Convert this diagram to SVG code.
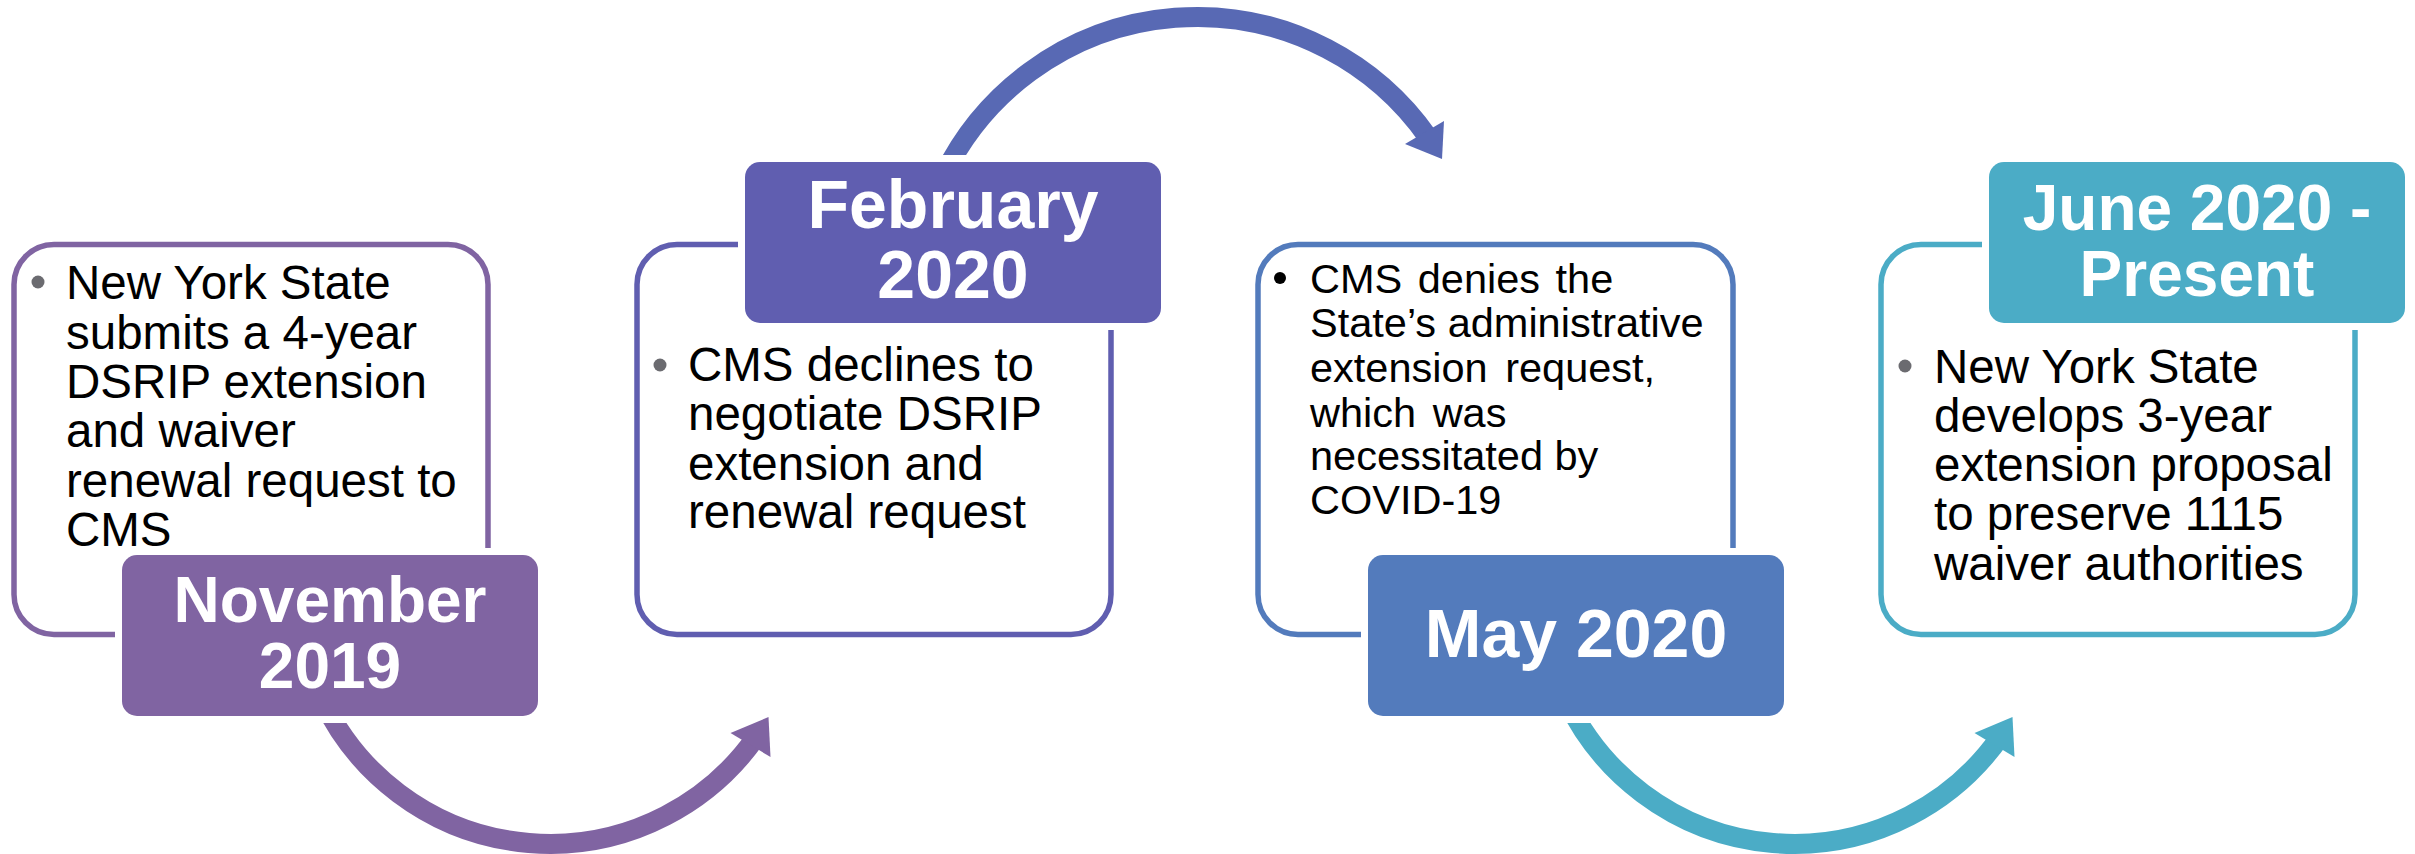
<svg xmlns="http://www.w3.org/2000/svg" width="2415" height="854" viewBox="0 0 2415 854">
<style>
.box{fill:#fff;stroke-width:5.5}
.lbl{stroke:#fff;stroke-width:14;paint-order:stroke}
.body{font-family:"Liberation Sans",Arial,sans-serif;font-size:47.5px;fill:#000}
.body3{font-family:"Liberation Sans",Arial,sans-serif;font-size:41.5px;fill:#000}
.date{font-family:"Liberation Sans",Arial,sans-serif;font-weight:bold;fill:#fff;text-anchor:middle}
.bul{fill:#6b6b70}
.shaft{fill:none;stroke-width:20}
</style>
<rect width="2415" height="854" fill="#fff"/>
<g id="connectors">
  <path class="shaft" stroke="#8064A2" d="M 322.4 700 A 252 252 0 0 0 756.4 736.5"/>
  <polygon fill="#8064A2" points="768.5,717 730.5,733 770.5,757"/>
  <path class="shaft" stroke="#5869B4" d="M 943.7 175 A 282 282 0 0 1 1428 137.2"/>
  <polygon fill="#5869B4" points="1442,159 1405,144 1444,121"/>
  <path class="shaft" stroke="#4BACC6" d="M 1566.4 700 A 252 252 0 0 0 2000.4 736.5"/>
  <polygon fill="#4BACC6" points="2012.5,717 1974.5,733 2014.5,757"/>
</g>
<g id="node-nov-2019">
  <rect class="box" x="14" y="244.5" width="474" height="390" rx="40" stroke="#8064A2"/>
  <circle class="bul" cx="38" cy="282" r="6.5"/>
  <text class="body" x="66"><tspan x="66" y="299">New York State</tspan><tspan x="66" y="348.5">submits a 4-year</tspan><tspan x="66" y="398">DSRIP extension</tspan><tspan x="66" y="447">and waiver</tspan><tspan x="66" y="497">renewal request to</tspan><tspan x="66" y="546">CMS</tspan></text>
  <rect class="lbl" x="122" y="555" width="416" height="161" rx="15" fill="#8064A2"/>
  <text class="date" font-size="64"><tspan x="330" y="622">November</tspan><tspan x="330" y="688">2019</tspan></text>
</g>
<g id="node-feb-2020">
  <rect class="box" x="637" y="244.5" width="474" height="390" rx="40" stroke="#605EB0"/>
  <circle class="bul" cx="660" cy="365" r="6.5"/>
  <text class="body"><tspan x="688" y="381">CMS declines to</tspan><tspan x="688" y="430">negotiate DSRIP</tspan><tspan x="688" y="480">extension and</tspan><tspan x="688" y="528">renewal request</tspan></text>
  <rect class="lbl" x="745" y="162" width="416" height="161" rx="15" fill="#605EB0"/>
  <text class="date" font-size="68"><tspan x="953" y="228">February</tspan><tspan x="953" y="298">2020</tspan></text>
</g>
<g id="node-may-2020">
  <rect class="box" x="1258" y="244.5" width="475" height="390" rx="40" stroke="#537BBC"/>
  <circle cx="1280" cy="278" r="6" fill="#000"/>
  <text class="body3"><tspan x="1310" y="293" word-spacing="4">CMS denies the</tspan><tspan x="1310" y="337">State’s administrative</tspan><tspan x="1310" y="382" word-spacing="6">extension request,</tspan><tspan x="1310" y="427" word-spacing="5">which was</tspan><tspan x="1310" y="470">necessitated by</tspan><tspan x="1310" y="514">COVID-19</tspan></text>
  <rect class="lbl" x="1368" y="555" width="416" height="161" rx="15" fill="#537BBC"/>
  <text class="date" font-size="68" x="1576" y="657">May 2020</text>
</g>
<g id="node-june-2020">
  <rect class="box" x="1881" y="244.5" width="474" height="390" rx="40" stroke="#4BACC6"/>
  <circle class="bul" cx="1905" cy="366" r="6.5"/>
  <text class="body"><tspan x="1934" y="383">New York State</tspan><tspan x="1934" y="432">develops 3-year</tspan><tspan x="1934" y="481">extension proposal</tspan><tspan x="1934" y="530">to preserve 1115</tspan><tspan x="1934" y="580">waiver authorities</tspan></text>
  <rect class="lbl" x="1989" y="162" width="416" height="161" rx="15" fill="#4BACC6"/>
  <text class="date" font-size="64"><tspan x="2197" y="230">June 2020 -</tspan><tspan x="2197" y="296">Present</tspan></text>
</g>
</svg>
